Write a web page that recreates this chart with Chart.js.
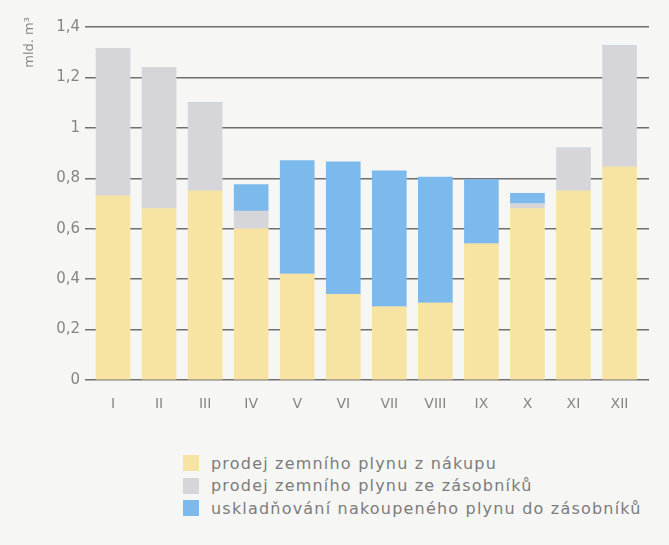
<!DOCTYPE html>
<html>
<head>
<meta charset="utf-8">
<script src="https://cdn.jsdelivr.net/npm/chart.js@4/dist/chart.umd.min.js"></script>
<style>
  body { margin: 0; background: #f6f6f4; width: 669px; height: 545px; overflow: hidden; font-family: "DejaVu Sans", sans-serif; }
  #wrap { position: relative; width: 669px; height: 430px; }
  #legend { position: absolute; left: 183px; top: 452px; }
  .item { display: flex; align-items: center; height: 22.5px; color: #7c7c7c; font-size: 16px; letter-spacing: 1.2px; }
  .box { width: 16px; height: 16px; margin-right: 12px; }
</style>
</head>
<body>
<div id="wrap"><canvas id="myChart" width="669" height="430"></canvas></div>
<div id="legend"></div>
<script>
const months = ["I", "II", "III", "IV", "V", "VI", "VII", "VIII", "IX", "X", "XI", "XII"];
const purchaseSales = [0.73, 0.68, 0.75, 0.60, 0.42, 0.34, 0.29, 0.305, 0.54, 0.68, 0.75, 0.845];
const storageSales = [0.585, 0.56, 0.35, 0.07, 0, 0, 0, 0, 0, 0.02, 0.17, 0.48];
const storageInjection = [0, 0, 0, 0.105, 0.45, 0.525, 0.54, 0.50, 0.255, 0.04, 0, 0];
const seriesNames = [
    "prodej zemního plynu z nákupu",
    "prodej zemního plynu ze zásobníků",
    "uskladňování nakoupeného plynu do zásobníků"
];
const seriesColors = ["#f8e4a2", "#d6d6da", "#7cb9ec"];
const axisTitle = "mld. m³";

const textColor = "#858585";
const gridColor = "#6f6f6f";

function toPoints(values) {
    return values.map((v, i) => ({ x: i + 1, y: v }));
}

const allSeries = [purchaseSales, storageSales, storageInjection];

// unit label sits above the top of the axis, so draw it by hand
const unitTitle = {
    id: "unitTitle",
    afterDraw(chart) {
        const c = chart.ctx;
        c.save();
        c.translate(30, 17);
        c.rotate(-Math.PI / 2);
        c.fillStyle = textColor;
        c.font = "13px 'DejaVu Sans'";
        c.textAlign = "right";
        c.textBaseline = "middle";
        c.fillText(axisTitle, 0, 0);
        c.restore();
    }
};

const ctx = document.getElementById("myChart").getContext("2d");
new Chart(ctx, {
    type: "bar",
    data: {
        datasets: allSeries.map((values, i) => ({
            label: seriesNames[i],
            data: toPoints(values),
            backgroundColor: seriesColors[i],
            borderWidth: 0,
            barThickness: 34
        }))
    },
    options: {
        responsive: false,
        animation: false,
        layout: {
            padding: { left: 28, top: 27, right: 20, bottom: 0 }
        },
        plugins: {
            legend: { display: false },
            tooltip: { enabled: false }
        },
        scales: {
            x: {
                type: "linear",
                stacked: true,
                offset: false,
                min: 0.5,
                max: 12.64,
                grid: { display: false },
                border: { display: false },
                afterBuildTicks: scale => {
                    scale.ticks = months.map((m, i) => ({ value: i + 1 }));
                },
                afterFit: scale => { scale.height = 50; },
                ticks: {
                    color: textColor,
                    font: { family: "DejaVu Sans", size: 14 },
                    padding: 8,
                    callback: val => months[val - 1] || ""
                }
            },
            y: {
                stacked: true,
                min: 0,
                max: 1.4,
                grid: {
                    color: gridColor,
                    lineWidth: 1.5,
                    tickLength: 5
                },
                border: { display: false },
                afterFit: scale => { scale.width = 62; },
                ticks: {
                    stepSize: 0.2,
                    color: textColor,
                    font: { family: "DejaVu Sans", size: 15 },
                    padding: 5,
                    callback: val => String(Math.round(val * 10) / 10).replace(".", ",")
                }
            }
        }
    },
    plugins: [unitTitle]
});

const legendEl = document.getElementById("legend");
seriesNames.forEach((name, i) => {
    const row = document.createElement("div");
    row.className = "item";
    const box = document.createElement("span");
    box.className = "box";
    box.style.background = seriesColors[i];
    const label = document.createElement("span");
    label.textContent = name;
    row.appendChild(box);
    row.appendChild(label);
    legendEl.appendChild(row);
});
</script>
</body>
</html>
